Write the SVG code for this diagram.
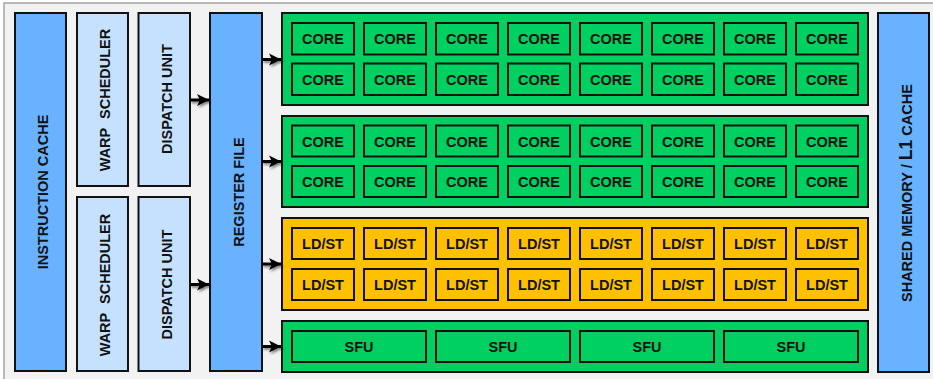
<svg xmlns="http://www.w3.org/2000/svg" width="933" height="379" viewBox="0 0 933 379">
<style>
text{font-family:"Liberation Sans",Arial,sans-serif;font-weight:bold;fill:#111;}
.lbl{font-size:14.5px;text-anchor:middle;}
.blue{fill:#68b2ff;stroke:#111;stroke-width:2;}
.lblue{fill:#c5e1fd;stroke:#111;stroke-width:2;}
.green{fill:#00d062;stroke:#111;stroke-width:2;}
.yellow{fill:#ffc000;stroke:#111;stroke-width:2;}
.cell{fill:none;stroke:#111;stroke-width:2;}
.cl{font-size:14.5px;text-anchor:middle;}
.conn line{stroke:#000;stroke-width:3;}
</style>
<defs>
<marker id="ah" markerUnits="userSpaceOnUse" markerWidth="14" markerHeight="14" refX="13" refY="7" orient="auto">
<path d="M1,1 L13,7 L1,13 L4,7 z" fill="#000"/>
</marker>
<filter id="sh" x="-50%" y="-50%" width="200%" height="200%">
<feDropShadow dx="1.5" dy="2" stdDeviation="1.3" flood-color="#000" flood-opacity="0.45"/>
</filter>
</defs>
<rect x="4" y="3" width="940" height="390" fill="#f2f2f2" stroke="#a3a3a3" stroke-width="1.5"/>

<g id="instruction-cache">
<rect class="blue" x="15" y="13" width="51" height="358"/>
<text class="lbl" transform="translate(48,192) rotate(-90)">INSTRUCTION CACHE</text>
</g>
<g id="warp-scheduler-1">
<rect class="lblue" x="77" y="13" width="51" height="173"/>
<text class="lbl" transform="translate(110,100) rotate(-90)">WARP<tspan dx="5"> SCHEDULER</tspan></text>
</g>
<g id="warp-scheduler-2">
<rect class="lblue" x="77" y="197" width="51" height="174"/>
<text class="lbl" transform="translate(110,285) rotate(-90)">WARP<tspan dx="5"> SCHEDULER</tspan></text>
</g>
<g id="dispatch-unit-1">
<rect class="lblue" x="138.5" y="13" width="51.5" height="173"/>
<text class="lbl" transform="translate(171.5,99) rotate(-90)">DISPATCH UNIT</text>
</g>
<g id="dispatch-unit-2">
<rect class="lblue" x="138.5" y="197" width="51.5" height="174"/>
<text class="lbl" transform="translate(171.5,284.5) rotate(-90)">DISPATCH UNIT</text>
</g>
<g id="register-file">
<rect class="blue" x="210" y="13" width="52" height="358"/>
<text class="lbl" transform="translate(243.5,192) rotate(-90)">REGISTER FILE</text>
</g>
<g id="shared-memory">
<rect class="blue" x="878" y="13" width="51" height="359"/>
<text transform="translate(911.5,302) rotate(-90)" style="font-size:14.5px">SHARED MEMORY / <tspan style="font-size:17.5px">L1</tspan> CACHE</text>
</g>

<g id="core-block-1">
<rect class="green" x="282" y="13" width="586" height="92"/>
<g class="cells">
<rect class="cell" x="292" y="23" width="62" height="31.5"/><rect class="cell" x="364" y="23" width="62" height="31.5"/><rect class="cell" x="436" y="23" width="62" height="31.5"/><rect class="cell" x="508" y="23" width="62" height="31.5"/><rect class="cell" x="580" y="23" width="62" height="31.5"/><rect class="cell" x="652" y="23" width="62" height="31.5"/><rect class="cell" x="724" y="23" width="62" height="31.5"/><rect class="cell" x="796" y="23" width="62" height="31.5"/>
<rect class="cell" x="292" y="63.5" width="62" height="31.5"/><rect class="cell" x="364" y="63.5" width="62" height="31.5"/><rect class="cell" x="436" y="63.5" width="62" height="31.5"/><rect class="cell" x="508" y="63.5" width="62" height="31.5"/><rect class="cell" x="580" y="63.5" width="62" height="31.5"/><rect class="cell" x="652" y="63.5" width="62" height="31.5"/><rect class="cell" x="724" y="63.5" width="62" height="31.5"/><rect class="cell" x="796" y="63.5" width="62" height="31.5"/>
</g>
<g class="cl">
<text class="cl" x="323" y="44">CORE</text><text class="cl" x="395" y="44">CORE</text><text class="cl" x="467" y="44">CORE</text><text class="cl" x="539" y="44">CORE</text><text class="cl" x="611" y="44">CORE</text><text class="cl" x="683" y="44">CORE</text><text class="cl" x="755" y="44">CORE</text><text class="cl" x="827" y="44">CORE</text>
<text class="cl" x="323" y="84.5">CORE</text><text class="cl" x="395" y="84.5">CORE</text><text class="cl" x="467" y="84.5">CORE</text><text class="cl" x="539" y="84.5">CORE</text><text class="cl" x="611" y="84.5">CORE</text><text class="cl" x="683" y="84.5">CORE</text><text class="cl" x="755" y="84.5">CORE</text><text class="cl" x="827" y="84.5">CORE</text>
</g>
</g>

<g id="core-block-2">
<rect class="green" x="282" y="116" width="586" height="91"/>
<rect class="cell" x="292" y="125.5" width="62" height="31"/><rect class="cell" x="364" y="125.5" width="62" height="31"/><rect class="cell" x="436" y="125.5" width="62" height="31"/><rect class="cell" x="508" y="125.5" width="62" height="31"/><rect class="cell" x="580" y="125.5" width="62" height="31"/><rect class="cell" x="652" y="125.5" width="62" height="31"/><rect class="cell" x="724" y="125.5" width="62" height="31"/><rect class="cell" x="796" y="125.5" width="62" height="31"/>
<rect class="cell" x="292" y="166" width="62" height="31"/><rect class="cell" x="364" y="166" width="62" height="31"/><rect class="cell" x="436" y="166" width="62" height="31"/><rect class="cell" x="508" y="166" width="62" height="31"/><rect class="cell" x="580" y="166" width="62" height="31"/><rect class="cell" x="652" y="166" width="62" height="31"/><rect class="cell" x="724" y="166" width="62" height="31"/><rect class="cell" x="796" y="166" width="62" height="31"/>
<text class="cl" x="323" y="146.5">CORE</text><text class="cl" x="395" y="146.5">CORE</text><text class="cl" x="467" y="146.5">CORE</text><text class="cl" x="539" y="146.5">CORE</text><text class="cl" x="611" y="146.5">CORE</text><text class="cl" x="683" y="146.5">CORE</text><text class="cl" x="755" y="146.5">CORE</text><text class="cl" x="827" y="146.5">CORE</text>
<text class="cl" x="323" y="187">CORE</text><text class="cl" x="395" y="187">CORE</text><text class="cl" x="467" y="187">CORE</text><text class="cl" x="539" y="187">CORE</text><text class="cl" x="611" y="187">CORE</text><text class="cl" x="683" y="187">CORE</text><text class="cl" x="755" y="187">CORE</text><text class="cl" x="827" y="187">CORE</text>
</g>

<g id="ldst-block">
<rect class="yellow" x="282" y="218" width="586" height="92"/>
<rect class="cell" x="292" y="228" width="62" height="31"/><rect class="cell" x="364" y="228" width="62" height="31"/><rect class="cell" x="436" y="228" width="62" height="31"/><rect class="cell" x="508" y="228" width="62" height="31"/><rect class="cell" x="580" y="228" width="62" height="31"/><rect class="cell" x="652" y="228" width="62" height="31"/><rect class="cell" x="724" y="228" width="62" height="31"/><rect class="cell" x="796" y="228" width="62" height="31"/>
<rect class="cell" x="292" y="269" width="62" height="31"/><rect class="cell" x="364" y="269" width="62" height="31"/><rect class="cell" x="436" y="269" width="62" height="31"/><rect class="cell" x="508" y="269" width="62" height="31"/><rect class="cell" x="580" y="269" width="62" height="31"/><rect class="cell" x="652" y="269" width="62" height="31"/><rect class="cell" x="724" y="269" width="62" height="31"/><rect class="cell" x="796" y="269" width="62" height="31"/>
<text class="cl" x="323" y="249">LD/ST</text><text class="cl" x="395" y="249">LD/ST</text><text class="cl" x="467" y="249">LD/ST</text><text class="cl" x="539" y="249">LD/ST</text><text class="cl" x="611" y="249">LD/ST</text><text class="cl" x="683" y="249">LD/ST</text><text class="cl" x="755" y="249">LD/ST</text><text class="cl" x="827" y="249">LD/ST</text>
<text class="cl" x="323" y="290">LD/ST</text><text class="cl" x="395" y="290">LD/ST</text><text class="cl" x="467" y="290">LD/ST</text><text class="cl" x="539" y="290">LD/ST</text><text class="cl" x="611" y="290">LD/ST</text><text class="cl" x="683" y="290">LD/ST</text><text class="cl" x="755" y="290">LD/ST</text><text class="cl" x="827" y="290">LD/ST</text>
</g>

<g id="sfu-block">
<rect class="green" x="282" y="321" width="586" height="51"/>
<rect class="cell" x="292" y="331" width="134" height="31"/><rect class="cell" x="436" y="331" width="134" height="31"/><rect class="cell" x="580" y="331" width="134" height="31"/><rect class="cell" x="724" y="331" width="134" height="31"/>
<text class="cl" x="359" y="352">SFU</text><text class="cl" x="503" y="352">SFU</text><text class="cl" x="647" y="352">SFU</text><text class="cl" x="791" y="352">SFU</text>
</g>

<g id="connectors" class="conn" filter="url(#sh)">
<line x1="190" y1="100" x2="209" y2="100" marker-end="url(#ah)"/>
<line x1="190" y1="284.5" x2="209" y2="284.5" marker-end="url(#ah)"/>
<line x1="262" y1="59.5" x2="281" y2="59.5" marker-end="url(#ah)"/>
<line x1="262" y1="161.5" x2="281" y2="161.5" marker-end="url(#ah)"/>
<line x1="262" y1="264" x2="281" y2="264" marker-end="url(#ah)"/>
<line x1="262" y1="346.5" x2="281" y2="346.5" marker-end="url(#ah)"/>
</g>
</svg>
